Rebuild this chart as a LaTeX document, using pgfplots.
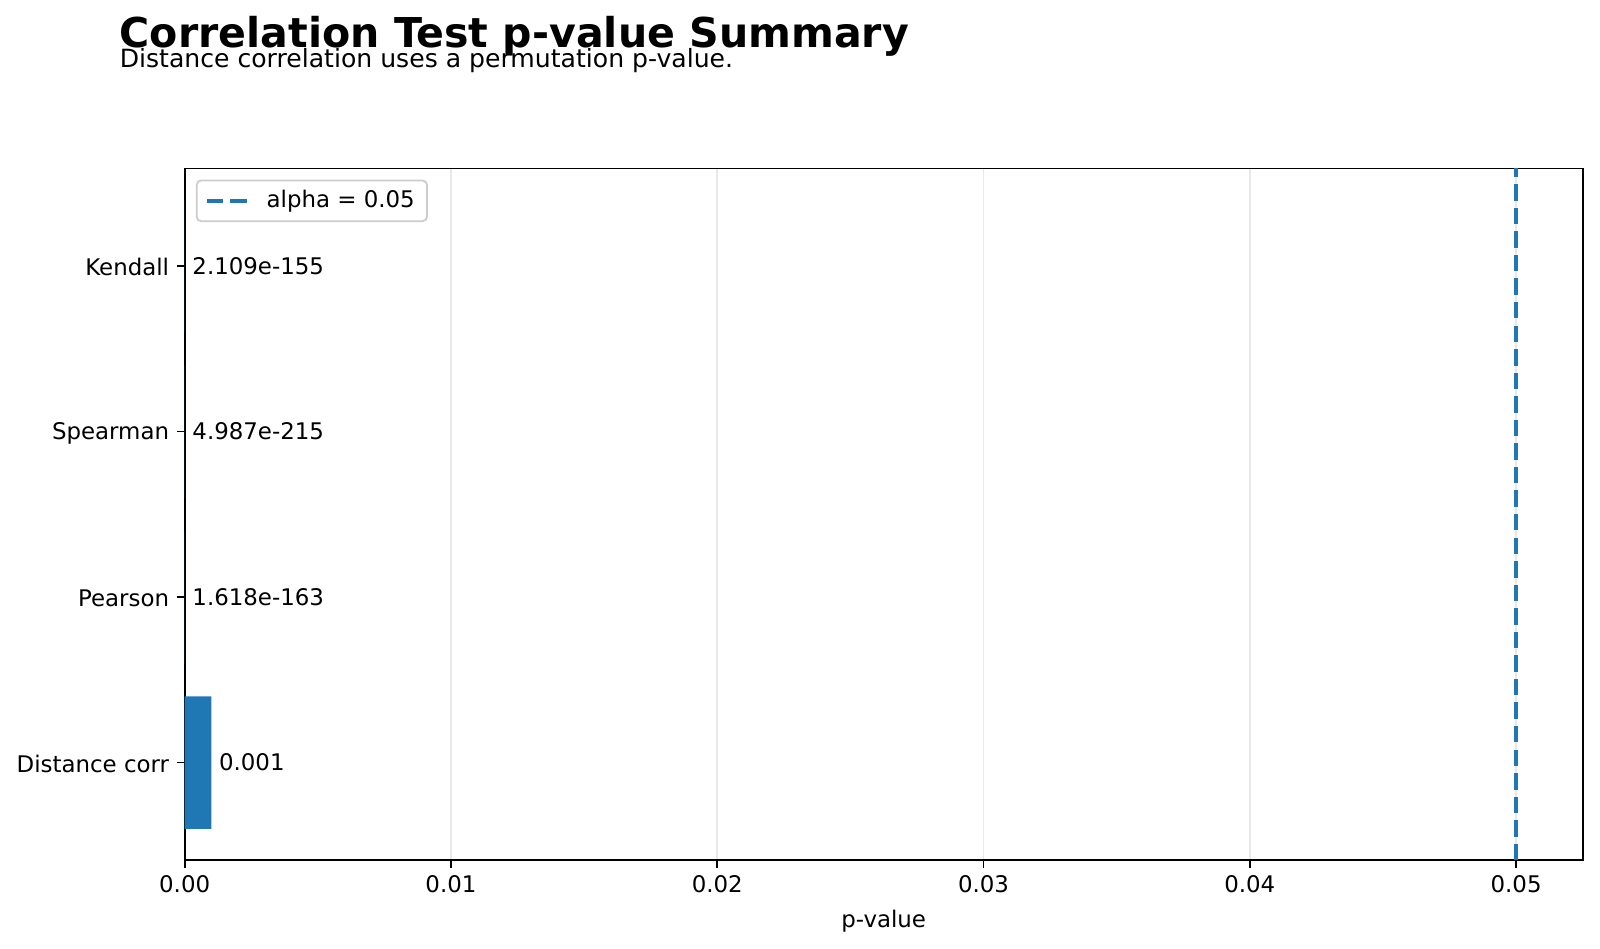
\documentclass[border=0pt]{standalone}
\usepackage{pgfplots}
\pgfplotsset{compat=1.18}
\usepackage{pgfplotstable}
\usepackage{fontspec}
\setmainfont{DejaVu Sans}
\definecolor{mblue}{HTML}{1F77B4}

\pgfplotstableread{
y x label
0 0.001 0.001
1 1.618e-163 1.618e-163
2 4.987e-215 4.987e-215
3 2.109e-155 2.109e-155
}\pvals

\begin{document}
\begin{tikzpicture}
\path[use as bounding box] (-83.1pt,-39.5pt) rectangle (636.9pt,387.1pt);
\begin{axis}[
  at={(0,0)}, anchor=south west, scale only axis,
  width=629.1pt, height=311.3pt,
  xmin=0, xmax=0.0525, ymin=-0.59, ymax=3.59,
  scaled x ticks=false,
  axis line style={black, line width=0.8pt},
  tick align=outside, tick pos=left,
  major tick length=3.5pt,
  every tick/.style={black, line width=0.8pt},
  xtick={0,0.01,0.02,0.03,0.04,0.05},
  xticklabels={0.00,0.01,0.02,0.03,0.04,0.05},
  ytick={0,1,2,3},
  yticklabels={Distance corr,Pearson,Spearman,Kendall},
  ticklabel style={font=\fontsize{10.3}{12}\selectfont},
  yticklabel style={yshift=-0.6pt},
  xmajorgrids, ymajorgrids=false,
  major grid style={gray!18, line width=0.8pt},
  xlabel={p-value},
  xlabel style={font=\fontsize{10.3}{12}\selectfont, yshift=-0.8pt},
  legend style={at={(0,1)}, anchor=north west, xshift=5pt, yshift=-5pt,
    draw=gray!40, line width=0.8pt, rounded corners=2pt,
    font=\fontsize{10.3}{12}\selectfont, inner xsep=3.5pt, inner ysep=2.5pt,
    cells={anchor=west}},
  legend image code/.code={\draw[#1] (0pt,0pt) -- (18.4pt,0pt) (24pt,0pt);},
  clip=false,
]
\addplot[xbar, bar width=0.8, fill=mblue, draw=none,
  point meta=explicit symbolic,
  nodes near coords,
  nodes near coords style={anchor=west, inner sep=0pt, xshift=3.3pt, font=\fontsize{10.3}{12}\selectfont, black},
  forget plot] table[x=x, y=y, meta=label] {\pvals};
\addplot[mblue, line width=2pt, dash pattern=on 7.4pt off 3.2pt] coordinates {(0.05,-0.59) (0.05,3.59)};
\addlegendentry{alpha = 0.05}
\end{axis}
\node[anchor=base west, inner sep=0pt, font=\fontsize{18.5}{22}\selectfont\bfseries] at (-29.4pt,365.6pt) {Correlation Test p-value Summary};
\node[anchor=base west, inner sep=0pt, font=\fontsize{11.3}{13}\selectfont] at (-29.4pt,356.9pt) {Distance correlation uses a permutation p-value.};
\end{tikzpicture}
\end{document}
